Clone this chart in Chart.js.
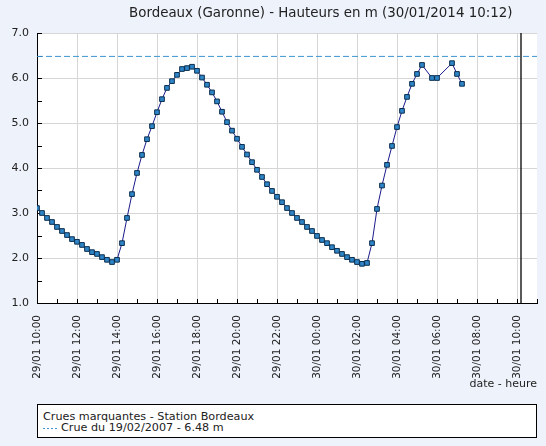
<!DOCTYPE html>
<html>
<head>
<meta charset="utf-8">
<script src="https://cdn.jsdelivr.net/npm/chart.js@4/dist/chart.umd.min.js"></script>
<style>
html,body{margin:0;padding:0;background:#EEF2FB;width:546px;height:446px;overflow:hidden;font-family:"DejaVu Sans",Verdana,sans-serif;}
#wrap{position:relative;width:546px;height:446px;}
#chart{position:absolute;left:0;top:0;}
#title{position:absolute;left:129px;top:5px;font-size:13.4px;line-height:16px;color:#222;white-space:nowrap;}
#legend{position:absolute;left:37px;top:404px;width:498px;height:32px;border:1px solid #000;background:#fff;font-size:11.2px;line-height:11px;color:#222;white-space:nowrap;}
#legend .l1{position:absolute;left:5px;top:6px;}
#legend .l2{position:absolute;left:5px;top:17px;}
#legend .dash{display:inline-block;width:14px;height:1px;vertical-align:middle;margin-right:4px;background:repeating-linear-gradient(to right,#3A95D0 0 2px,transparent 2px 4px);}
</style>
</head>
<body>
<div id="wrap">
  <canvas id="chart" width="546" height="446"></canvas>
  <div id="title"></div>
  <div id="legend"><div class="l1"></div><div class="l2"><span class="dash"></span><span class="txt"></span></div></div>
</div>
<script>
const chartTitle = "Bordeaux (Garonne) - Hauteurs en m (30/01/2014 10:12)";
const legendTitle = "Crues marquantes - Station Bordeaux";
const crueLabel = "Crue du 19/02/2007 - 6.48 m";
const crueLevel = 6.48;
const nowTime = "30/01 10:12";
const axisStart = "29/01 10:00";
const axisEnd = "30/01 11:00";
const xTitle = "date - heure";

const times = [
 "29/01 10:00","29/01 10:15","29/01 10:30","29/01 10:45","29/01 11:00","29/01 11:15","29/01 11:30","29/01 11:45",
 "29/01 12:00","29/01 12:15","29/01 12:30","29/01 12:45","29/01 13:00","29/01 13:15","29/01 13:30","29/01 13:45",
 "29/01 14:00","29/01 14:15","29/01 14:30","29/01 14:45","29/01 15:00","29/01 15:15","29/01 15:30","29/01 15:45",
 "29/01 16:00","29/01 16:15","29/01 16:30","29/01 16:45","29/01 17:00","29/01 17:15","29/01 17:30","29/01 17:45",
 "29/01 18:00","29/01 18:15","29/01 18:30","29/01 18:45","29/01 19:00","29/01 19:15","29/01 19:30","29/01 19:45",
 "29/01 20:00","29/01 20:15","29/01 20:30","29/01 20:45","29/01 21:00","29/01 21:15","29/01 21:30","29/01 21:45",
 "29/01 22:00","29/01 22:15","29/01 22:30","29/01 22:45","29/01 23:00","29/01 23:15","29/01 23:30","29/01 23:45",
 "30/01 00:00","30/01 00:15","30/01 00:30","30/01 00:45","30/01 01:00","30/01 01:15","30/01 01:30","30/01 01:45",
 "30/01 02:00","30/01 02:15","30/01 02:30","30/01 02:45","30/01 03:00","30/01 03:15","30/01 03:30","30/01 03:45",
 "30/01 04:00","30/01 04:15","30/01 04:30","30/01 04:45","30/01 05:00","30/01 05:15",
 "30/01 05:45","30/01 06:00",
 "30/01 06:45","30/01 07:00","30/01 07:15"
];
const heights = [
 3.11,3.00,2.89,2.80,2.69,2.60,2.51,2.42,
 2.36,2.29,2.20,2.13,2.09,2.02,1.96,1.91,
 1.96,2.33,2.89,3.42,3.89,4.29,4.64,4.93,
 5.24,5.53,5.78,5.93,6.07,6.20,6.22,6.25,
 6.16,6.01,5.85,5.68,5.48,5.25,5.02,4.83,
 4.65,4.47,4.30,4.13,3.96,3.80,3.64,3.49,
 3.36,3.24,3.11,3.00,2.89,2.80,2.69,2.60,
 2.49,2.40,2.33,2.24,2.16,2.09,2.02,1.96,
 1.91,1.87,1.89,2.33,3.09,3.61,4.07,4.49,
 4.91,5.27,5.58,5.87,6.09,6.29,
 6.00,6.00,
 6.33,6.09,5.87
];
const tickLabels = [
 "29/01 10:00","29/01 12:00","29/01 14:00","29/01 16:00","29/01 18:00","29/01 20:00","29/01 22:00",
 "30/01 00:00","30/01 02:00","30/01 04:00","30/01 06:00","30/01 08:00","30/01 10:00"
];
const yMin = 1.0, yMax = 7.0;

document.getElementById('title').textContent = chartTitle;
document.querySelector('#legend .l1').textContent = legendTitle;
document.querySelector('#legend .l2 .txt').textContent = crueLabel;

function absHours(s){
  const [d, hm] = s.split(' ');
  const day = parseInt(d.slice(0,2),10);
  const [h, m] = hm.split(':').map(Number);
  return day*24 + h + m/60;
}
const t0 = absHours(axisStart);
const toX = s => absHours(s) - t0;

const mainData = times.map((t,i)=>({x:toX(t), y:heights[i]}));
const xMax = toX(axisEnd);

const bgPlugin = {
  id:'bg',
  beforeDraw(chart){
    const {ctx, chartArea:a} = chart;
    ctx.save();
    ctx.fillStyle = '#ffffff';
    ctx.fillRect(a.left, a.top, a.right-a.left, a.bottom-a.top);
    ctx.restore();
  },
  beforeDatasetsDraw(chart){
    const {ctx, chartArea:a, scales} = chart;
    ctx.save();
    ctx.strokeStyle = '#000';
    ctx.lineWidth = 1;
    ctx.beginPath();
    for (let v = yMin; v <= yMax + 1e-9; v += 0.5){
      const y = Math.round(scales.y.getPixelForValue(v)) + 0.5;
      ctx.moveTo(a.left, y); ctx.lineTo(a.left + 5, y);
    }
    for (let h = 0; h <= xMax; h += 1){
      const x = Math.round(scales.x.getPixelForValue(h)) + 0.5;
      ctx.moveTo(x, a.bottom); ctx.lineTo(x, a.bottom - 4);
    }
    ctx.stroke();
    ctx.restore();
  }
};

new Chart(document.getElementById('chart'), {
  type:'line',
  data:{
    datasets:[
      {
        label:'Hauteur',
        data: mainData,
        borderColor:'#1B1B8C',
        borderWidth:1,
        pointStyle:'rect',
        pointRadius:3.3,
        pointBackgroundColor:'#2E86C8',
        pointBorderColor:'#0B2D4D',
        pointBorderWidth:1,
        tension:0,
        fill:false
      },
      {
        label: crueLabel,
        data:[{x:0,y:crueLevel},{x:xMax,y:crueLevel}],
        borderColor:'#3A95D0',
        borderWidth:1,
        borderDash:[6,3],
        pointRadius:0,
        fill:false
      },
      {
        label:'now',
        data:[{x:toX(nowTime),y:yMin},{x:toX(nowTime),y:yMax}],
        borderColor:'#000',
        borderWidth:1.3,
        pointRadius:0,
        fill:false
      }
    ]
  },
  options:{
    responsive:false,
    devicePixelRatio:1,
    animation:false,
    events:[],
    layout:{padding:{top:33,right:9,bottom:53,left:0}},
    plugins:{legend:{display:false},tooltip:{enabled:false},title:{display:false}},
    scales:{
      x:{
        type:'linear',
        min:0, max:xMax,
        afterFit(s){ s.height = 90; },
        ticks:{
          stepSize:2, includeBounds:false, autoSkip:false,
          minRotation:90, maxRotation:90, padding:12,
          color:'#222', font:{family:'DejaVu Sans', size:10.5},
          callback:(v)=> tickLabels[Math.round(v/2)]
        },
        grid:{color:'#D6D6D6', drawTicks:false, lineWidth:1},
        border:{color:'#000', width:1},
        title:{display:true, text:xTitle, align:'end', color:'#222', font:{family:'DejaVu Sans', size:11}, padding:{top:0,bottom:2}}
      },
      y:{
        type:'linear',
        min:yMin, max:yMax,
        afterFit(s){ s.width = 37; },
        ticks:{stepSize:1, padding:8, color:'#222', font:{family:'DejaVu Sans', size:11}, callback:(v)=>v.toFixed(1)},
        grid:{color:'#D6D6D6', drawTicks:false, lineWidth:1},
        border:{color:'#000', width:1}
      }
    }
  },
  plugins:[bgPlugin]
});
</script>
</body>
</html>
